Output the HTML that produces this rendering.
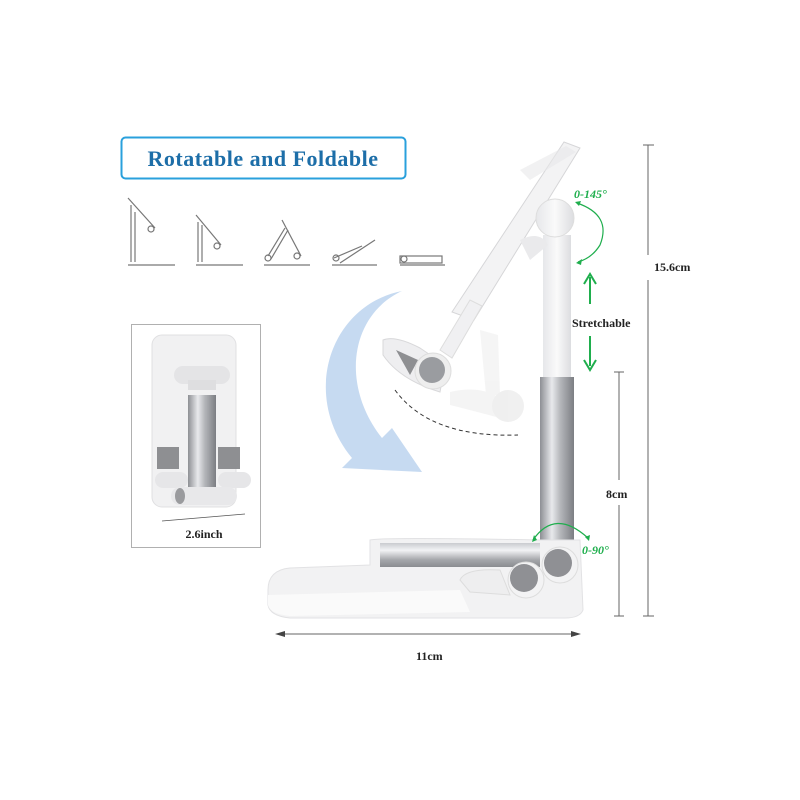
<!DOCTYPE html>
<html><head><meta charset="utf-8"><style>
html,body{margin:0;padding:0;background:#fff;width:800px;height:800px;overflow:hidden}
</style></head><body>
<svg width="800" height="800" viewBox="0 0 800 800" xmlns="http://www.w3.org/2000/svg">
<defs>
<linearGradient id="silv" x1="0" x2="1" y1="0" y2="0">
<stop offset="0" stop-color="#8d8f94"/><stop offset="0.35" stop-color="#e8e9ec"/><stop offset="0.6" stop-color="#b4b6ba"/><stop offset="1" stop-color="#7c7e83"/></linearGradient>
<linearGradient id="silvh" x1="0" x2="0" y1="0" y2="1">
<stop offset="0" stop-color="#c9cbcf"/><stop offset="0.3" stop-color="#f2f3f5"/><stop offset="0.7" stop-color="#a5a7ab"/><stop offset="1" stop-color="#8a8c90"/></linearGradient>
<linearGradient id="wh" x1="0" x2="1"><stop offset="0" stop-color="#e6e7ea"/><stop offset="0.5" stop-color="#fafafa"/><stop offset="1" stop-color="#dcdde0"/></linearGradient>
</defs>
<rect x="121.5" y="137.5" width="284" height="41" rx="4" fill="#fff" stroke="#2aa0dc" stroke-width="2"/>
<text x="263" y="166" text-anchor="middle" font-family="Liberation Serif,serif" font-weight="bold" font-size="22" fill="#1d6ea8" letter-spacing="0.5">Rotatable and Foldable</text>
<g stroke="#777" stroke-width="1.2" fill="none">
<line x1="128" y1="265" x2="175" y2="265"/><line x1="131" y1="205" x2="131" y2="262"/><line x1="135" y1="212" x2="135" y2="262"/><line x1="128" y1="198" x2="155" y2="228"/><circle cx="151" cy="229" r="3"/>
<line x1="196" y1="265" x2="243" y2="265"/><line x1="198" y1="222" x2="198" y2="262"/><line x1="202" y1="225" x2="202" y2="262"/><line x1="196" y1="215" x2="221" y2="245"/><circle cx="217" cy="246" r="3"/>
<line x1="264" y1="265" x2="310" y2="265"/><line x1="268" y1="256" x2="285" y2="228"/><line x1="271" y1="259" x2="288" y2="230"/><line x1="282" y1="220" x2="301" y2="256"/><circle cx="297" cy="256" r="3"/><circle cx="268" cy="258" r="3"/>
<line x1="332" y1="265" x2="377" y2="265"/><line x1="334" y1="258" x2="362" y2="246"/><line x1="340" y1="263" x2="375" y2="240"/><circle cx="336" cy="258" r="3"/>
<line x1="400" y1="265" x2="445" y2="265"/><rect x="400" y="256" width="42" height="7"/><circle cx="404" cy="259" r="3"/>
</g>
<rect x="131.5" y="324.5" width="129" height="223" fill="#fff" stroke="#b0b0b0" stroke-width="1"/>
<rect x="152" y="335" width="84" height="172" rx="10" fill="#f1f1f2" stroke="#e0e0e2"/>
<rect x="174" y="366" width="56" height="18" rx="9" fill="#e4e4e6"/>
<rect x="188" y="380" width="28" height="10" fill="#dedee0"/>
<rect x="188" y="395" width="28" height="105" fill="url(#silv)"/>
<rect x="157" y="447" width="22" height="22" fill="#8e8f92"/>
<rect x="218" y="447" width="22" height="22" fill="#8e8f92"/>
<rect x="155" y="472" width="33" height="16" rx="8" fill="#e6e6e8"/>
<rect x="218" y="472" width="33" height="16" rx="8" fill="#e6e6e8"/>
<rect x="171" y="487" width="66" height="18" rx="9" fill="#e8e8ea"/>
<ellipse cx="180" cy="496" rx="5" ry="8" fill="#9a9b9e"/>
<line x1="162" y1="521" x2="245" y2="514" stroke="#555" stroke-width="0.8"/>
<text x="204" y="538" text-anchor="middle" font-family="Liberation Serif,serif" font-weight="bold" font-size="12" fill="#222">2.6inch</text>
<path d="M402 291 C330 305 300 395 352 458 L342 468 L422 472 L392 428 L382 438 C340 385 350 315 402 291 Z" fill="#bcd4ee" opacity="0.85"/>
<path d="M395 390 Q430 438 518 435" stroke="#333" stroke-width="1" stroke-dasharray="4,3" fill="none"/>
<g opacity="0.3"><path d="M480 330 L498 335 L500 395 L486 395 Z" fill="#ddd"/><path d="M450 392 Q480 385 500 398 L500 418 Q470 410 450 405 Z" fill="#ddd"/><circle cx="508" cy="406" r="16" fill="#ccc"/></g>
<path d="M452 312 L564 142 L580 148 L474 320 Z" fill="#f3f3f4" stroke="#d6d6d8"/>
<path d="M520 170 L566 146 L576 152 L530 180 Z" fill="#e8e8ea" opacity="0.6"/>
<path d="M440 350 L470 300 L482 306 L452 358 Z" fill="#f0f0f2" stroke="#ddd"/>
<path d="M383 340 Q395 335 420 348 L445 365 L440 392 Q400 380 383 355 Z" fill="#eeeef0" stroke="#d8d8da"/>
<path d="M396 350 L418 360 L410 375 Z" fill="#8e8f92"/>
<circle cx="433" cy="371" r="18" fill="#eee" stroke="#ddd"/>
<circle cx="432" cy="370" r="13" fill="#9a9ca0"/>
<rect x="543" y="235" width="28" height="145" fill="url(#wh)"/>
<path d="M520 240 Q540 230 548 245 L530 260 Z" fill="#eaeaec"/>
<circle cx="555" cy="218" r="19" fill="url(#wh)" stroke="#ddd"/>
<rect x="540" y="377" width="34" height="168" fill="url(#silv)"/>
<path d="M268 590 Q268 570 290 568 L370 565 L370 540 Q380 537 540 540 L580 540 L583 610 Q580 618 565 618 L290 618 Q270 616 268 605 Z" fill="#f2f2f3" stroke="#e2e2e4"/>
<path d="M268 595 L460 590 L470 612 L290 616 Q270 614 268 605 Z" fill="#fafafa"/>
<rect x="380" y="543" width="160" height="24" fill="url(#silvh)"/>
<path d="M460 580 Q465 568 500 570 L510 595 L470 592 Z" fill="#eeeeef" stroke="#ddd"/>
<circle cx="526" cy="580" r="18" fill="#f3f3f4" stroke="#ddd"/>
<circle cx="524" cy="578" r="14" fill="#8f9094"/>
<circle cx="560" cy="565" r="18" fill="#f3f3f4" stroke="#ddd"/>
<circle cx="558" cy="563" r="14" fill="#8f9094"/>
<g stroke="#666" stroke-width="1" fill="none">
<line x1="648" y1="145" x2="648" y2="255"/><line x1="648" y1="280" x2="648" y2="616"/><line x1="643" y1="145" x2="654" y2="145"/><line x1="643" y1="616" x2="654" y2="616"/>
<line x1="619" y1="372" x2="619" y2="480"/><line x1="619" y1="505" x2="619" y2="616"/><line x1="614" y1="372" x2="624" y2="372"/><line x1="614" y1="616" x2="624" y2="616"/>
<line x1="278" y1="634" x2="578" y2="634"/>
</g>
<path d="M275 634 L285 631 L285 637 Z M581 634 L571 631 L571 637 Z" fill="#444"/>
<g font-family="Liberation Serif,serif" font-weight="bold" font-size="12" fill="#222">
<text x="654" y="271">15.6cm</text>
<text x="606" y="498">8cm</text>
<text x="416" y="660">11cm</text>
<text x="572" y="327">Stretchable</text>
</g>
<g font-family="Liberation Serif,serif" font-style="italic" font-weight="bold" font-size="12" fill="#1fae4d">
<text x="574" y="198">0-145°</text>
<text x="582" y="554">0-90°</text>
</g>
<g stroke="#1fae4d" fill="none" stroke-width="1.2">
<path d="M577 203 Q612 215 600 245 Q592 258 578 262"/>
<path d="M533 540 Q555 508 588 538"/>
<line x1="590" y1="277" x2="590" y2="304" stroke-width="2"/>
<line x1="590" y1="336" x2="590" y2="366" stroke-width="2"/>
<path d="M584 284 L590 274 L596 284 M584 360 L590 370 L596 360" stroke-width="2"/>
</g>
<path d="M575 202 L581 201 L579 206 Z M576 263 L582 259 L581 265 Z M532 542 L534 535 L537 540 Z M589 541 L585 537 L590 535 Z" fill="#1fae4d"/>
</svg>
</body></html>
